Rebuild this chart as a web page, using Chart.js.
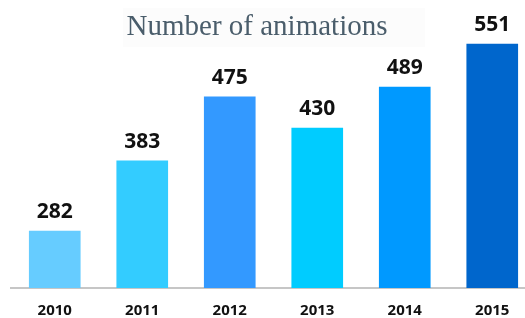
<!DOCTYPE html>
<html>
<head>
<meta charset="utf-8">
<script src="https://cdn.jsdelivr.net/npm/chart.js@4"></script>
<style>
  html, body { margin: 0; padding: 0; background: #fff; overflow: hidden; }
  #wrap { width: 536px; height: 321px; }
</style>
</head>
<body>
<div id="wrap"><canvas id="chart" width="536" height="321"></canvas></div>
<script>
const years = ['2010', '2011', '2012', '2013', '2014', '2015'];
const animations = [282, 383, 475, 430, 489, 551];
const barColors = ['#66ccff', '#33ccff', '#3399ff', '#00ccff', '#0099ff', '#0066cc'];
const chartTitle = 'Number of animations';

// title sits inside the plot area, so draw it by hand
const titlePlugin = {
    id: 'floatingTitle',
    beforeDatasetsDraw(chart) {
        const ctx = chart.ctx;
        ctx.save();
        ctx.fillStyle = '#fcfcfc';
        ctx.fillRect(123, 8, 302, 39);
        ctx.font = '29px "Liberation Serif", serif';
        ctx.fillStyle = '#4a5d6b';
        ctx.textAlign = 'center';
        ctx.textBaseline = 'alphabetic';
        ctx.fillText(chartTitle, 257, 35);
        ctx.restore();
    },
};

// value labels above bars
const valueLabels = {
    id: 'valueLabels',
    afterDatasetsDraw(chart) {
        const ctx = chart.ctx;
        const meta = chart.getDatasetMeta(0);
        ctx.save();
        ctx.font = 'bold 21px "Open Sans", sans-serif';
        ctx.fillStyle = '#111';
        ctx.textAlign = 'center';
        ctx.textBaseline = 'alphabetic';
        meta.data.forEach((bar, i) => {
            ctx.fillText(animations[i], bar.x, bar.y - 13);
        });
        ctx.restore();
    },
};

new Chart(document.getElementById('chart'), {
    type: 'bar',
    data: {
        labels: years,
        datasets: [{
            data: animations,
            backgroundColor: barColors,
            borderWidth: 0,
            barThickness: 51,
        }],
    },
    options: {
        responsive: false,
        animation: false,
        layout: { padding: { left: 11, right: 0, top: 10, bottom: 0 } },
        plugins: {
            legend: { display: false },
            title: { display: false },
            tooltip: { enabled: false },
        },
        scales: {
            x: {
                grid: { display: false, drawTicks: false },
                border: { display: true, color: '#c6c6c6', width: 2 },
                ticks: {
                    color: '#111',
                    padding: 14,
                    maxRotation: 0,
                    font: { family: '"Open Sans", sans-serif', size: 15, weight: 'bold' },
                },
                afterFit(scale) {
                    scale.height = 33;
                },
            },
            y: {
                display: false,
                min: 200,
                max: 600,
            },
        },
    },
    plugins: [titlePlugin, valueLabels],
});
</script>
</body>
</html>
